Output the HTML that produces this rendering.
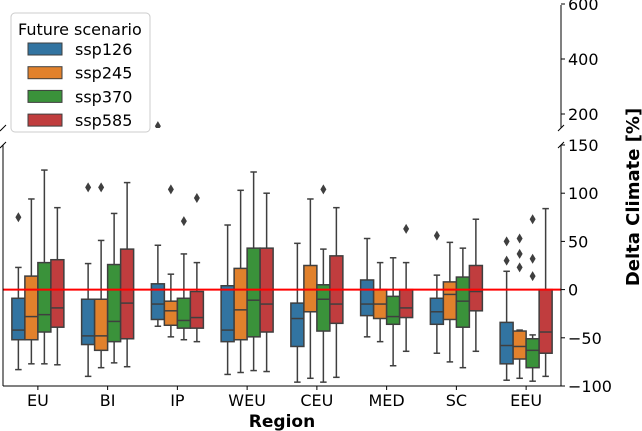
<!DOCTYPE html>
<html><head><meta charset="utf-8"><style>
body{margin:0;background:#fff;}
svg{display:block;font-family:"DejaVu Sans","Liberation Sans",sans-serif;}
</style></head><body>
<svg id="chart" width="642" height="431" viewBox="0 0 642 431" xmlns="http://www.w3.org/2000/svg">
<g id="plot"></g>
<g id="axes"></g>
<g id="legend">
<rect x="11" y="13" width="139" height="119" rx="4" fill="#fff" fill-opacity="0.85" stroke="#ccc"/>
<text x="18" y="35" font-size="16" fill="#000">Future scenario</text>
</g>
</svg>
<script>
const regions=["EU","BI","IP","WEU","CEU","MED","SC","EEU"];
const scenarios=["ssp126","ssp245","ssp370","ssp585"];
const colors=["#3274a1","#e1812c","#3a923a","#c03d3e"];
// [whiskerLow, q1, median, q3, whiskerHigh] per region per scenario
const ssp126=[[-83,-52,-42,-9,23],[-90,-57,-48,-10,27],[-38,-31,-15,6,46],[-88,-54,-42,4,67],[-96,-59,-30,-14,48],[-49,-27,-15,10,53],[-66,-36,-23,-9,15],[-94,-77,-58,-34,19]];
const ssp245=[[-77,-52,-28,14,94],[-81,-63,-48,-10,51],[-49,-37,-22,-12,16],[-86,-52,-21,22,103],[-92,-23,0,25,94],[-54,-30,-15,0,28],[-75,-31,-5,8,49],[-92,-72,-59,-43,-42]];
const ssp370=[[-77,-44,-26,28,124],[-76,-54,-33,26,79],[-52,-40,-32,-9,37],[-84,-49,-11,43,122],[-96,-43,-10,5,42],[-79,-36,-28,-7,33],[-81,-39,-12,13,43],[-95,-81,-63,-51,-47]];
const ssp585=[[-78,-39,-19,31,85],[-80,-51,-14,42,111],[-54,-40,-29,-2,28],[-85,-44,-15,43,100],[-91,-35,-15,35,85],[-64,-29,-19,0,28],[-64,-22,-2,25,73],[-90,-66,-44,0,84]];
const outRegion=[0,1,1,2,2,2,2,4,5,6,7,7,7,7,7,7,7,7];
const outScen=  [0,0,1,0,1,2,3,2,3,0,0,0,1,1,1,2,2,2];
const outValue= [75,106,106,156,104,71,95,104,63,56,50,30,53,37,23,73,32,14];
const botTicks=[-100,-50,0,50,100,150];
const topTicks=[200,400,600];
const series=[ssp126,ssp245,ssp370,ssp585];

const NS="http://www.w3.org/2000/svg";
const plot=document.getElementById('plot'),axes=document.getElementById('axes'),legend=document.getElementById('legend');
function el(t,a,p){const e=document.createElementNS(NS,t);for(const k in a)e.setAttribute(k,a[k]);p.appendChild(e);return e;}
const L=3,R=561,bT=145,bB=386,tT=5,tB=128;
function yb(v){return bB-(v+100)*(bB-bT)/250;}
function yt(v){return 114-(v-200)*(55/200);}
function xc(i){return L+(R-L)*(i+0.5)/regions.length;}
const bw=13,off=[-19.5,-6.5,6.5,19.5],gray="#3f3f3f";
const defs=el('defs',{},document.getElementById('chart'));
const cb=el('clipPath',{id:'cb'},defs);el('rect',{x:L,y:bT,width:R-L,height:bB-bT},cb);
const ct=el('clipPath',{id:'ct'},defs);el('rect',{x:L,y:tT,width:R-L,height:tB-tT},ct);
const gb=el('g',{'clip-path':'url(#cb)'},plot);
const gt=el('g',{'clip-path':'url(#ct)'},plot);
for(let r=0;r<regions.length;r++){for(let s=0;s<4;s++){
  const d=series[s][r];const x=xc(r)+off[s];
  const g=el('g',{},gb);
  
  
  el('line',{x1:x,x2:x,y1:yb(d[0]),y2:yb(d[1]),stroke:gray,'stroke-width':1.5},g);
  el('line',{x1:x,x2:x,y1:yb(d[3]),y2:yb(d[4]),stroke:gray,'stroke-width':1.5},g);
  el('line',{x1:x-bw/4,x2:x+bw/4,y1:yb(d[0]),y2:yb(d[0]),stroke:gray,'stroke-width':1.5},g);
  el('line',{x1:x-bw/4,x2:x+bw/4,y1:yb(d[4]),y2:yb(d[4]),stroke:gray,'stroke-width':1.5},g);
  el('rect',{x:x-bw/2,y:yb(d[3]),width:bw,height:yb(d[1])-yb(d[3]),fill:colors[s],stroke:gray,'stroke-width':1.5},g);
  el('line',{x1:x-bw/2,x2:x+bw/2,y1:yb(d[2]),y2:yb(d[2]),stroke:gray,'stroke-width':1.5},g);
}}
for(let i=0;i<outValue.length;i++){
  const x=xc(outRegion[i])+off[outScen[i]];
  for(const [g,y] of [[gb,yb(outValue[i])],[gt,yt(outValue[i])]]){
    const p=el('path',{d:`M${x} ${y-5}L${x+3} ${y}L${x} ${y+5}L${x-3} ${y}Z`,fill:gray},g);
    
    
  }
}
const zl=el('line',{x1:L,x2:R,y1:yb(0),y2:yb(0),stroke:'#ff0000','stroke-width':2},plot);


el('line',{x1:L,x2:L,y1:bT,y2:bB,stroke:'#000','stroke-width':1},axes);
el('line',{x1:L,x2:R,y1:bB,y2:bB,stroke:'#000','stroke-width':1},axes);
el('line',{x1:R,x2:R,y1:bT,y2:bB,stroke:'#000','stroke-width':1},axes);
el('line',{x1:R,x2:R,y1:tT,y2:tB,stroke:'#000','stroke-width':1},axes);
for(const [x,y] of [[L,tB],[L,bT],[R,tB],[R,bT]]) el('line',{x1:x-3,x2:x+3,y1:y+3,y2:y-3,stroke:'#000','stroke-width':1},axes);
botTicks.forEach(v=>{const y=yb(v);el('line',{x1:R,x2:R+4,y1:y,y2:y,stroke:'#000'},axes);
  const t=el('text',{x:R+7,y:y+6,'font-size':16,fill:'#000'},axes);t.textContent=(v<0?'\u2212'+(-v):v);
  });
topTicks.forEach(v=>{const y=yt(v);el('line',{x1:R,x2:R+4,y1:y,y2:y,stroke:'#000'},axes);
  const t=el('text',{x:R+7,y:y+6,'font-size':16,fill:'#000'},axes);t.textContent=v;
  });
regions.forEach((r,i)=>{const x=xc(i);el('line',{x1:x,x2:x,y1:bB,y2:bB+4,stroke:'#000'},axes);
  const t=el('text',{x:x,y:406,'font-size':16,'text-anchor':'middle',fill:'#000'},axes);t.textContent=r;
  });
const xt=el('text',{x:282,y:427,'font-size':17,'font-weight':'bold','text-anchor':'middle'},axes);xt.textContent='Region';

const ytl=el('text',{x:0,y:0,'font-size':18,'font-weight':'bold','text-anchor':'middle',transform:'translate(639,197) rotate(-90)'},axes);ytl.textContent='Delta Climate [%]';

scenarios.forEach((s,i)=>{const y=49+i*23.7;
  const g=el('g',{},legend);
  
  
  el('rect',{x:28,y:y-6,width:34,height:12,fill:colors[i],stroke:gray,'stroke-width':1},g);
  const t=el('text',{x:75,y:y+6,'font-size':16,fill:'#000'},g);t.textContent=s;});
</script>
</body></html>
